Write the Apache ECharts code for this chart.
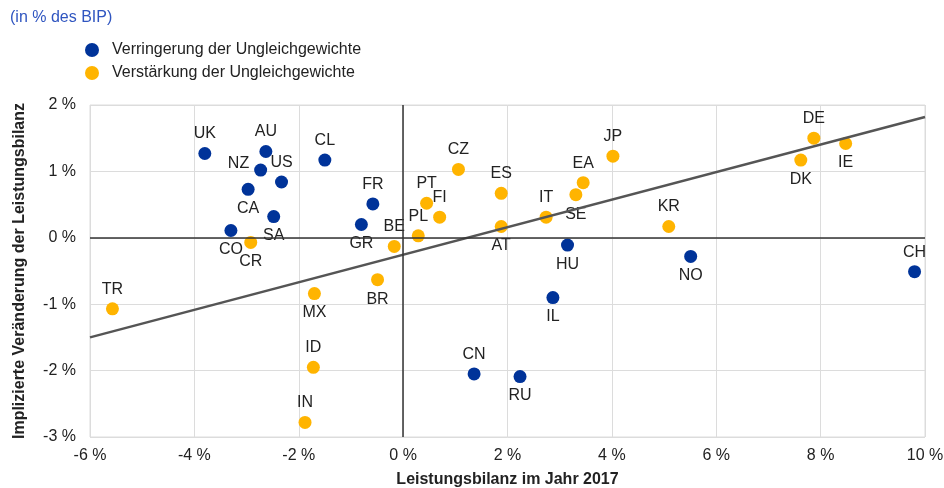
<!DOCTYPE html>
<html>
<head>
<meta charset="utf-8">
<script src="https://cdn.jsdelivr.net/npm/echarts@6/dist/echarts.min.js"></script>
<style>html,body{margin:0;padding:0;background:#fff}#c{width:944px;height:488px}</style>
</head>
<body>
<div id="c"></div>
<script>
// Verringerung der Ungleichgewichte (blue)
const blueNames = ['UK','AU','NZ','US','CL','CA','SA','CO','FR','GR','CN','RU','IL','HU','NO','CH'];
const blueX =     [-3.80,-2.63,-2.73,-2.33,-1.50,-2.97,-2.48,-3.30,-0.58,-0.80,1.36,2.24,2.87,3.15,5.51,9.80];
const blueY =     [1.27,1.30,1.02,0.84,1.17,0.73,0.32,0.11,0.51,0.20,-2.05,-2.09,-0.90,-0.11,-0.28,-0.51];
const bluePos =   ['top','top','left','top','top','bottom','bottom','bottom','top','bottom','top','bottom','bottom','bottom','bottom','top'];

// Verstärkung der Ungleichgewichte (yellow)
const yellowNames = ['CR','BE','BR','MX','TR','ID','IN','PT','FI','PL','CZ','ES','AT','IT','SE','EA','JP','KR','DE','DK','IE'];
const yellowX =     [-2.92,-0.17,-0.49,-1.70,-5.57,-1.72,-1.88,0.45,0.70,0.29,1.06,1.88,1.88,2.74,3.31,3.45,4.02,5.09,7.87,7.62,8.48];
const yellowY =     [-0.07,-0.13,-0.63,-0.84,-1.07,-1.95,-2.78,0.52,0.31,0.03,1.03,0.67,0.17,0.31,0.65,0.83,1.23,0.17,1.50,1.17,1.42];
const yellowPos =   ['bottom','top','bottom','bottom','top','top','top','top','top','top','top','top','bottom','top','bottom','top','top','top','top','bottom','bottom'];

// Regression line endpoints
const trendX = [-6, 10];
const trendY = [-1.50, 1.82];

const xTicks = {min: -6, max: 10, interval: 2};
const yTicks = {min: -3, max: 2, interval: 1};

function pts(names, xs, ys, pos) {
  return names.map((n, i) => {
    const p = {name: n, value: [xs[i], ys[i]], label: {position: pos[i]}};
    if (n === 'NZ') p.label.offset = [0, -6];
    return p;
  });
}

const chart = echarts.init(document.getElementById('c'));
const font = 'Liberation Sans, Arial, sans-serif';
chart.setOption({
  animation: false,
  textStyle: {fontFamily: font},
  title: {
    text: '(in % des BIP)', left: 5, top: 5,
    textStyle: {color: '#2f55c0', fontSize: 16, fontWeight: 'normal', fontFamily: font}
  },
  legend: {
    orient: 'vertical', left: 80, top: 37, itemGap: 7,
    itemWidth: 14, itemHeight: 14, icon: 'circle',
    textStyle: {fontSize: 16, color: '#222', fontFamily: font, padding: [0, 0, 0, 8]},
    data: ['Verringerung der Ungleichgewichte', 'Verstärkung der Ungleichgewichte']
  },
  grid: {left: 90, right: 19, top: 105, bottom: 51, show: true, borderColor: '#dcdcdc', borderWidth: 1, outerBoundsMode: 'none', containLabel: false},
  xAxis: {
    type: 'value', min: xTicks.min, max: xTicks.max, interval: xTicks.interval,
    name: 'Leistungsbilanz im Jahr 2017', nameLocation: 'middle', nameGap: 35,
    nameTextStyle: {fontWeight: 'bold', fontSize: 16, color: '#222'},
    axisLine: {show: false}, axisTick: {show: false},
    axisLabel: {formatter: v => v + ' %', fontSize: 16, color: '#222', margin: 11},
    splitLine: {show: true, lineStyle: {color: '#dcdcdc', width: 1}}
  },
  yAxis: {
    type: 'value', min: yTicks.min, max: yTicks.max, interval: yTicks.interval,
    name: 'Implizierte Veränderung der Leistungsbilanz', nameLocation: 'middle', nameGap: 62,
    nameTextStyle: {fontWeight: 'bold', fontSize: 16, color: '#222'},
    axisLine: {show: false}, axisTick: {show: false},
    axisLabel: {formatter: v => v + ' %', fontSize: 16, color: '#222', margin: 14},
    splitLine: {show: true, lineStyle: {color: '#dcdcdc', width: 1}}
  },
  series: [
    {
      name: 'Verringerung der Ungleichgewichte', type: 'scatter', symbolSize: 13, z: 3,
      itemStyle: {color: '#003399', opacity: 1},
      label: {show: true, formatter: '{b}', fontSize: 16, color: '#222', distance: 5},
      data: pts(blueNames, blueX, blueY, bluePos),
      markLine: {
        silent: true, symbol: 'none', animation: false,
        label: {show: false},
        lineStyle: {color: '#333', width: 1.5, type: 'solid'},
        data: [{xAxis: 0}, {yAxis: 0}]
      }
    },
    {
      name: 'Verstärkung der Ungleichgewichte', type: 'scatter', symbolSize: 13, z: 3,
      itemStyle: {color: '#ffb400', opacity: 1},
      label: {show: true, formatter: '{b}', fontSize: 16, color: '#222', distance: 5},
      data: pts(yellowNames, yellowX, yellowY, yellowPos)
    },
    {
      name: 'Trend', type: 'line', z: 4, symbol: 'none', silent: true,
      lineStyle: {color: '#555', width: 2.5},
      data: trendX.map((x, i) => [x, trendY[i]])
    }
  ]
});
</script>
</body>
</html>
